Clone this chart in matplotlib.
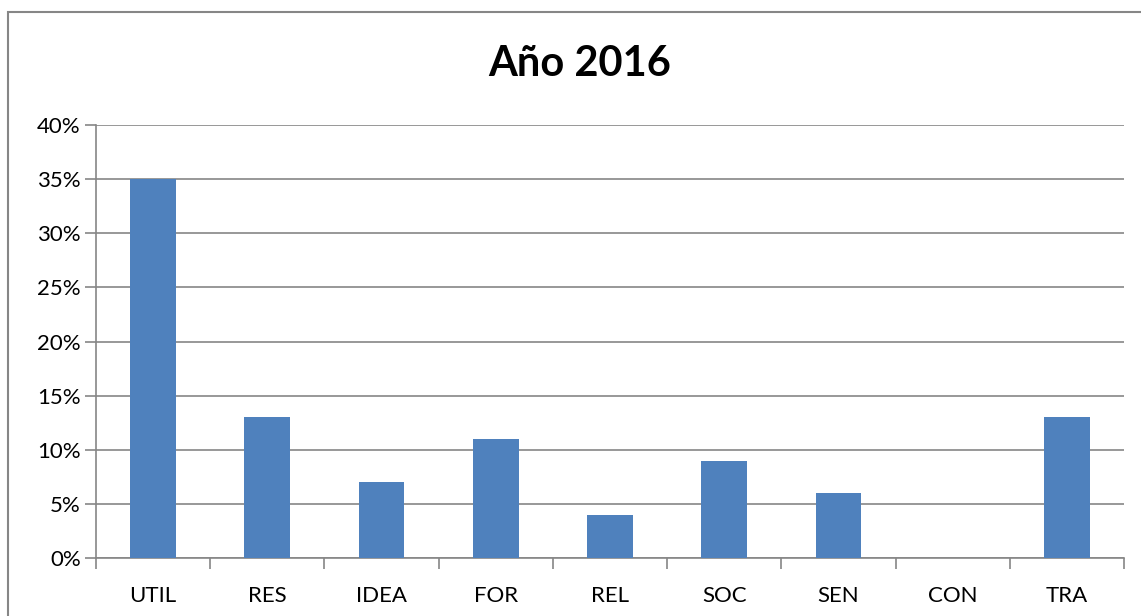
import matplotlib
matplotlib.use("Agg")
import matplotlib.pyplot as plt
from matplotlib.patches import Rectangle
from matplotlib.ticker import FixedLocator, NullFormatter

categories = ["UTIL", "RES", "IDEA", "FOR", "REL", "SOC", "SEN", "CON", "TRA"]
values = [0.35, 0.13, 0.07, 0.11, 0.04, 0.09, 0.06, 0.0, 0.13]
yticks = [0, 0.05, 0.10, 0.15, 0.20, 0.25, 0.30, 0.35, 0.40]
ytick_labels = ["0%", "5%", "10%", "15%", "20%", "25%", "30%", "35%", "40%"]
title = "Año 2016"

plt.rcParams['font.family'] = ['Lato', 'DejaVu Sans']

W, H = 1141, 616
fig = plt.figure(figsize=(W/100, H/100), dpi=100)
fig.patch.set_facecolor("white")
fig.patches.append(Rectangle((8/W, -0.1), 1.2, (H-12)/H + 0.1, transform=fig.transFigure,
                             fill=False, edgecolor="#868686", linewidth=1.5))

ax = fig.add_axes([96/W, (H-558)/H, (1124-96)/W, (558-125)/H])
x = range(len(categories))
ax.bar(x, values, width=0.40, color="#4F81BD", zorder=3)
ax.set_xlim(-0.5, len(categories)-0.5)
ax.set_ylim(0, 0.40)
ax.set_yticks(yticks)
ax.set_yticklabels(ytick_labels)
ax.set_xticks(list(x))
ax.set_xticklabels(categories)
ax.xaxis.set_minor_locator(FixedLocator([i - 0.5 for i in range(len(categories)+1)]))
ax.xaxis.set_minor_formatter(NullFormatter())
ax.tick_params(axis='x', which='major', length=0, pad=20, labelsize=16)
ax.tick_params(axis='x', which='minor', length=8, width=1.2, color="#868686")
ax.tick_params(axis='y', length=8, width=1.2, color="#868686", labelsize=16, pad=3)
ax.grid(axis='y', color="#868686", linewidth=1.2, zorder=0)
for s in ["top", "right"]:
    ax.spines[s].set_visible(False)
for s in ["left", "bottom"]:
    ax.spines[s].set_color("#868686")
    ax.spines[s].set_linewidth(1.2)

fig.text(580/W, (H-64)/H, title, ha="center", va="center", fontsize=30, fontweight="bold")

fig.savefig("out.png", dpi=100)
